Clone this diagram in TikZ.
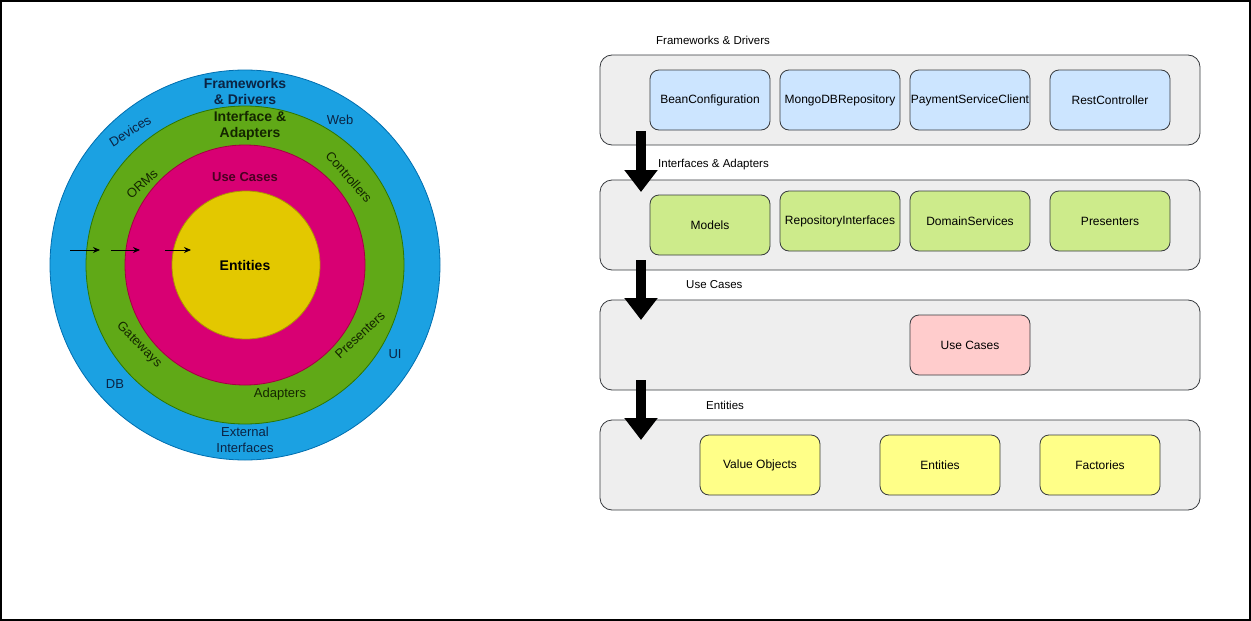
\documentclass[tikz,border=0pt]{standalone}
\usepackage{fontspec}
\setmainfont{Liberation Sans}
\usetikzlibrary{arrows.meta}
\definecolor{fwfill}{HTML}{1BA1E2}\definecolor{fwdraw}{HTML}{006EAF}
\definecolor{iafill}{HTML}{60A917}\definecolor{iadraw}{HTML}{2D7600}
\definecolor{ucfill}{HTML}{D80073}\definecolor{ucdraw}{HTML}{A50040}
\definecolor{enfill}{HTML}{E3C800}\definecolor{endraw}{HTML}{B09500}
\definecolor{fwtext}{HTML}{0B2444}\definecolor{iatext}{HTML}{142600}
\definecolor{uctext}{HTML}{4A0022}
\definecolor{layerfill}{HTML}{EEEEEE}\definecolor{layerdraw}{HTML}{36393D}
\definecolor{bluebox}{HTML}{CCE5FF}\definecolor{greenbox}{HTML}{CDEB8B}
\definecolor{redbox}{HTML}{FFCCCC}\definecolor{yellowbox}{HTML}{FFFF88}
\tikzset{
  ring/.style={circle,inner sep=0pt,line width=0.8pt},
  ringtitle/.style={font=\fontsize{14}{16.5}\selectfont\bfseries,align=center,inner sep=0pt},
  ringlabel/.style={font=\fontsize{13}{15.5}\selectfont,align=center,inner sep=0pt},
  layer/.style={draw=layerdraw,fill=layerfill,rounded corners=12pt,line width=0.8pt,minimum width=600pt,minimum height=90pt,inner sep=0pt},
  layertitle/.style={font=\fontsize{11.5}{13}\selectfont,anchor=west,inner sep=0pt},
  item/.style={draw=layerdraw,rounded corners=9pt,line width=0.8pt,minimum width=120pt,minimum height=60pt,inner sep=0pt,font=\fontsize{12}{14}\selectfont},
  smallarrow/.style={-{Stealth[length=7pt,width=6pt]},line width=0.9pt},
  bigarrow/.style={-{Triangle[length=22pt,width=32pt]},line width=10pt},
}
\begin{document}
\begin{tikzpicture}[x=1pt,y=-1pt]
\useasboundingbox (0,0) rectangle (1251,621);
\draw[line width=2pt] (1,1) rectangle (1250,620);
% ---------- onion ----------
\node[ring,fill=fwfill,draw=fwdraw,minimum size=390pt] (fw) at (245,265) {};
\node[ring,fill=iafill,draw=iadraw,minimum size=318pt] (ia) at (245,265) {};
\node[ring,fill=ucfill,draw=ucdraw,minimum size=240pt] (uc) at (245,265) {};
\node[ring,fill=enfill,draw=endraw,minimum size=148pt] (en) at (246,265) {};
\node[ringtitle,text=fwtext] (fwt) at (245,91) {Frameworks\\[-0.5pt]\& Drivers};
\node[ringtitle,text=iatext] (iat) at (250,126) {Interface \&\\[-0.5pt]Adapters};
\node[ringtitle,font=\fontsize{13}{15}\selectfont\bfseries,text=uctext] (uct) at (245,177) {Use Cases};
\node[ringtitle,text=black] (ent) at (245,265) {Entities};
\node[ringlabel,text=fwtext,rotate=32] (dev) at (130,131) {Devices};
\node[ringlabel,text=fwtext] (web) at (340,120) {Web};
\node[ringlabel,text=fwtext] (db) at (115,384) {DB};
\node[ringlabel,text=fwtext] (ui) at (395,354) {UI};
\node[ringlabel,text=fwtext] (ext) at (245,440) {External\\Interfaces};
\node[ringlabel,text=iatext,rotate=42] (orm) at (142,184) {ORMs};
\node[ringlabel,text=iatext,rotate=-49] (ctl) at (349,177) {Controllers};
\node[ringlabel,text=iatext,rotate=-45] (gw) at (139,345) {Gateways};
\node[ringlabel,text=iatext,rotate=43] (pres) at (360,335) {Presenters};
\node[ringlabel,text=iatext] (adp) at (280,394) {Adapters};
\coordinate (a1s) at (70,250); \coordinate (a1e) at (100,250);
\coordinate (a2s) at (111,250); \coordinate (a2e) at (140,250);
\coordinate (a3s) at (165,250); \coordinate (a3e) at (191,250);
\draw[smallarrow] (a1s) -- (a1e);
\draw[smallarrow] (a2s) -- (a2e);
\draw[smallarrow] (a3s) -- (a3e);
% ---------- layers ----------
\node[layer] (L1) at (900,100) {};
\node[layer] (L2) at (900,225) {};
\node[layer] (L3) at (900,345) {};
\node[layer] (L4) at (900,465) {};
\node[layertitle] (T1) at (656,40) {Frameworks \& Drivers};
\node[layertitle] (T2) at (658,165) {Interfaces \& Adapters};
\node[layertitle] (T3) at (686,285) {Use Cases};
\node[layertitle] (T4) at (706,405) {Entities};
\node[item,fill=bluebox] (b1) at (710,100) {BeanConfiguration};
\node[item,fill=bluebox] (b2) at (840,100) {MongoDBRepository};
\node[item,fill=bluebox] (b3) at (970,100) {PaymentServiceClient};
\node[item,fill=bluebox] (b4) at (1110,100) {RestController};
\node[item,fill=greenbox] (g1) at (710,225) {Models};
\node[item,fill=greenbox] (g2) at (840,221) {RepositoryInterfaces};
\node[item,fill=greenbox] (g3) at (970,221) {DomainServices};
\node[item,fill=greenbox] (g4) at (1110,221) {Presenters};
\node[item,fill=redbox] (r1) at (970,345) {Use Cases};
\node[item,fill=yellowbox] (y1) at (760,465) {Value Objects};
\node[item,fill=yellowbox] (y2) at (940,465) {Entities};
\node[item,fill=yellowbox] (y3) at (1100,465) {Factories};
\coordinate (d1s) at (641,131); \coordinate (d1e) at (641,192);
\coordinate (d2s) at (641,260); \coordinate (d2e) at (641,320);
\coordinate (d3s) at (641,380); \coordinate (d3e) at (641,440);
\draw[bigarrow] (d1s) -- (d1e);
\draw[bigarrow] (d2s) -- (d2e);
\draw[bigarrow] (d3s) -- (d3e);
\end{tikzpicture}
\end{document}
